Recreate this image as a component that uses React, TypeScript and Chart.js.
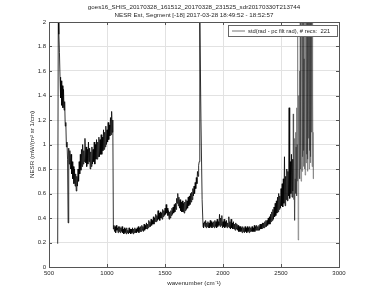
import { useEffect, useRef } from 'react';
import { Chart, registerables } from 'chart.js';

Chart.register(...registerables);

const titleLines = [
  'goes16_SHIS_20170328_161512_20170328_231525_sdr20170330T213744',
  'NESR Est, Segment [-18] 2017-03-28 18:49:52 - 18:52:57',
];
const xLabel = 'wavenumber (cm\u207B\u00B9)';
const yLabel = 'NESR (mW/(m\u00B2 sr 1/cm)';
const legendLabel = 'std(rad - pc filt rad), # recs:  221';
const xTickValues = [500, 1000, 1500, 2000, 2500, 3000];
const yTickValues = [0, 0.2, 0.4, 0.6, 0.8, 1, 1.2, 1.4, 1.6, 1.8, 2];

// Band 1 (longwave), sampled every 5 cm-1
const band1Start = 575;
const band1Step = 5;
const band1Nesr = [
  0.19, 2.05, 1.9, 1.75, 1.55, 1.38, 1.52, 1.32, 1.48, 1.3, 1.45, 1.28, 1.35, 1.15, 1.18, 0.98,
  1.02, 0.88, 0.36, 0.97, 0.84, 0.95, 0.8, 0.92, 0.76, 0.86, 0.72, 0.82, 0.68, 0.8, 0.66, 0.76,
  0.62, 0.74, 0.66, 0.8, 0.7, 0.86, 0.76, 0.92, 0.79, 0.96, 0.82, 1.0, 0.84, 0.95, 0.86, 1.05,
  0.85, 0.98, 0.82, 0.96, 0.84, 1.02, 0.86, 0.97, 0.8, 0.94, 0.82, 0.98, 0.84, 0.96, 0.86, 1.02,
  0.84, 1.0, 0.88, 1.04, 0.88, 1.02, 0.9, 1.06, 0.9, 1.04, 0.92, 1.08, 0.92, 1.06, 0.95, 1.12,
  0.96, 1.1, 0.98, 1.15, 1.0, 1.12, 1.02, 1.18, 1.04, 1.16, 1.07, 1.22, 1.08, 1.27, 1.1, 1.2,
];

// Band 2 (midwave), sampled every 5 cm-1
const band2Start = 1055;
const band2Step = 5;
const band2Nesr = [
  0.31, 0.34, 0.29, 0.33, 0.28, 0.34, 0.3, 0.32, 0.28, 0.33,
  0.29, 0.33, 0.28, 0.32, 0.29, 0.33, 0.28, 0.31, 0.27, 0.32,
  0.28, 0.31, 0.27, 0.32, 0.28, 0.3, 0.27, 0.32, 0.28, 0.31,
  0.27, 0.31, 0.28, 0.32, 0.27, 0.31, 0.28, 0.32, 0.28, 0.31,
  0.28, 0.32, 0.29, 0.33, 0.28, 0.32, 0.29, 0.33, 0.29, 0.34,
  0.3, 0.33, 0.29, 0.35, 0.3, 0.34, 0.31, 0.36, 0.31, 0.35,
  0.32, 0.38, 0.33, 0.37, 0.33, 0.39, 0.34, 0.38, 0.35, 0.41,
  0.35, 0.4, 0.37, 0.43, 0.37, 0.42, 0.38, 0.46, 0.39, 0.44,
  0.38, 0.45, 0.4, 0.44, 0.39, 0.47, 0.41, 0.46, 0.42, 0.48,
  0.43, 0.51, 0.44, 0.48, 0.42, 0.46, 0.39, 0.45, 0.4, 0.46,
  0.42, 0.48, 0.43, 0.49, 0.44, 0.51, 0.45, 0.52, 0.47, 0.56,
  0.52, 0.6, 0.5, 0.57, 0.48, 0.55, 0.46, 0.53, 0.45, 0.54,
  0.45, 0.52, 0.44, 0.53, 0.46, 0.55, 0.47, 0.54, 0.48, 0.57,
  0.5, 0.58, 0.51, 0.6, 0.53, 0.61, 0.55, 0.64, 0.58, 0.66,
  0.6, 0.69, 0.64, 0.73, 0.68, 0.78, 0.74, 0.83, 0.86,
];

// Band edge spike between band 2 and band 3
const edgeWn = [1800, 1810, 1820, 1828];
const edgeNesr = [2.05, 1.2, 0.55, 0.33];

// Band 3 (shortwave), sampled every 5 cm-1
const band3Start = 1830;
const band3Step = 5;
const band3Nesr = [
  0.36, 0.32, 0.37, 0.33, 0.38, 0.32, 0.36, 0.33, 0.37, 0.32,
  0.36, 0.32, 0.38, 0.33, 0.37, 0.32, 0.36, 0.33, 0.37, 0.32,
  0.38, 0.33, 0.37, 0.32, 0.39, 0.33, 0.37, 0.34, 0.43, 0.33,
  0.4, 0.34, 0.42, 0.32, 0.37, 0.33, 0.39, 0.32, 0.37, 0.33,
  0.38, 0.32, 0.36, 0.33, 0.41, 0.32, 0.37, 0.31, 0.39, 0.32,
  0.36, 0.31, 0.37, 0.31, 0.35, 0.3, 0.36, 0.31, 0.35, 0.3,
  0.34, 0.29, 0.33, 0.29, 0.33, 0.29, 0.32, 0.28, 0.33, 0.29,
  0.32, 0.28, 0.33, 0.29, 0.32, 0.28, 0.33, 0.29, 0.32, 0.28,
  0.33, 0.29, 0.32, 0.29, 0.33, 0.29, 0.32, 0.29, 0.34, 0.29,
  0.33, 0.3, 0.34, 0.3, 0.33, 0.3, 0.34, 0.3, 0.35, 0.31,
  0.35, 0.31, 0.36, 0.32, 0.36, 0.32, 0.37, 0.33, 0.38, 0.33,
  0.38, 0.34, 0.4, 0.35, 0.41, 0.35, 0.43, 0.37, 0.45, 0.38,
  0.47, 0.39, 0.49, 0.41, 0.52, 0.42, 0.54, 0.44, 0.57, 0.45,
  0.6, 0.47, 0.58, 0.48, 0.64, 0.5, 0.68, 0.49, 0.72, 0.52,
  0.9, 0.5, 0.74, 0.55, 0.8, 0.54, 0.78, 0.58, 1.3, 0.56,
  0.86, 0.6, 0.92, 0.57, 0.88,
];

// Noisy tail of band 3, sampled every 2.5 cm-1
const tailStart = 2602.5;
const tailStep = 2.5;
const tailNesr = [
  0.62, 1.25, 0.55, 0.95, 0.66, 1.05, 0.5, 0.38, 0.72, 1.1,
  0.6, 0.98, 0.65, 1.3, 0.58, 1.0, 0.7, 1.9, 0.22, 1.4,
  0.68, 1.15, 0.75, 1.6, 0.72, 2.3, 0.8, 1.35, 0.7, 2.4,
  0.85, 1.8, 0.78, 2.5, 0.9, 2.2, 0.82, 2.6, 0.95, 1.7,
  0.8, 2.5, 0.75, 2.3, 1.0, 2.6, 0.85, 2.2, 0.92, 2.5,
  0.78, 2.4, 0.88, 2.6, 1.05, 2.3, 0.8, 2.5, 0.95, 2.2,
  0.85, 2.6, 0.9, 2.4, 1.1, 1.9, 0.82, 2.2, 0.95, 1.4,
  0.72, 1.1,
];

const FONT = '"Liberation Sans", Arial, Helvetica, sans-serif';
const TEXT = '#262626';

export default function App() {
  const ref = useRef<HTMLCanvasElement>(null);

  useEffect(() => {
    const pts: { x: number; y: number }[] = [];
    band1Nesr.forEach((v, i) => pts.push({ x: band1Start + i * band1Step, y: v }));
    band2Nesr.forEach((v, i) => pts.push({ x: band2Start + i * band2Step, y: v }));
    edgeNesr.forEach((v, i) => pts.push({ x: edgeWn[i], y: v }));
    band3Nesr.forEach((v, i) => pts.push({ x: band3Start + i * band3Step, y: v }));
    tailNesr.forEach((v, i) => pts.push({ x: tailStart + i * tailStep, y: v }));

    const decor = {
      id: 'decor',
      afterDraw(chart: any) {
        const { ctx, chartArea: a, scales } = chart;
        ctx.save();
        ctx.strokeStyle = '#555';
        ctx.lineWidth = 1;
        ctx.strokeRect(Math.round(a.left) + 0.5, Math.round(a.top) + 0.5, Math.round(a.right - a.left), Math.round(a.bottom - a.top));
        ctx.beginPath();
        xTickValues.forEach((v) => {
          const px = Math.round(scales.x.getPixelForValue(v)) + 0.5;
          ctx.moveTo(px, a.bottom);
          ctx.lineTo(px, a.bottom - 3);
          ctx.moveTo(px, a.top);
          ctx.lineTo(px, a.top + 3);
        });
        yTickValues.forEach((v) => {
          const py = Math.round(scales.y.getPixelForValue(v)) + 0.5;
          ctx.moveTo(a.left, py);
          ctx.lineTo(a.left + 3, py);
          ctx.moveTo(a.right, py);
          ctx.lineTo(a.right - 3, py);
        });
        ctx.stroke();
        ctx.fillStyle = TEXT;
        ctx.textAlign = 'center';
        ctx.textBaseline = 'middle';
        ctx.font = `6.2px ${FONT}`;
        ctx.fillText(titleLines[0], (a.left + a.right) / 2, 7);
        ctx.fillText(titleLines[1], (a.left + a.right) / 2, 15.5);
        const lx = 228.5, ly = 25.5, lw = 109, lh = 11;
        ctx.fillStyle = '#fff';
        ctx.fillRect(lx, ly, lw, lh);
        ctx.strokeStyle = '#666';
        ctx.strokeRect(lx, ly, lw, lh);
        ctx.strokeStyle = '#777';
        ctx.beginPath();
        ctx.moveTo(232, ly + lh / 2);
        ctx.lineTo(245, ly + lh / 2);
        ctx.stroke();
        ctx.fillStyle = TEXT;
        ctx.textAlign = 'left';
        ctx.font = `5.8px ${FONT}`;
        ctx.fillText(legendLabel, 248, ly + lh / 2 + 0.5);
        ctx.restore();
      },
    };

    const chart = new Chart(ref.current as HTMLCanvasElement, {
      type: 'line',
      data: {
        datasets: [
          {
            label: legendLabel,
            data: pts,
            borderColor: '#000',
            borderWidth: 0.8,
            pointRadius: 0,
            tension: 0,
            fill: false,
            clip: 0,
            segment: {
              borderColor: (c: any) => (c.p0.parsed.x > 2600 ? 'rgba(0,0,0,0.55)' : undefined),
              borderWidth: (c: any) => (c.p0.parsed.x > 2600 ? 0.6 : undefined),
            },
          } as any,
        ],
      },
      options: {
        animation: false,
        responsive: true,
        maintainAspectRatio: false,
        layout: { padding: { left: 0, top: 22, right: 36, bottom: 0 } },
        plugins: {
          legend: { display: false },
          tooltip: { enabled: false },
          title: { display: false },
        },
        scales: {
          x: {
            type: 'linear',
            min: 500,
            max: 3000,
            afterFit: (s: any) => { s.height = 34; },
            afterBuildTicks: (s: any) => { s.ticks = xTickValues.map((v) => ({ value: v })); },
            grid: { color: '#e2e2e2', drawTicks: false, lineWidth: 1 },
            border: { display: false },
            ticks: {
              padding: 3,
              color: TEXT,
              font: { family: FONT, size: 6 },
              maxRotation: 0,
              callback: (v: any) => String(v),
            },
            title: {
              display: true,
              text: xLabel,
              color: TEXT,
              font: { family: FONT, size: 6.2 },
              padding: { top: 0, bottom: 14 },
            },
          },
          y: {
            type: 'linear',
            min: 0,
            max: 2,
            afterFit: (s: any) => { s.width = 49; },
            afterBuildTicks: (s: any) => { s.ticks = yTickValues.map((v) => ({ value: v })); },
            grid: { color: '#e2e2e2', drawTicks: false, lineWidth: 1 },
            border: { display: false },
            ticks: {
              padding: 3,
              color: TEXT,
              font: { family: FONT, size: 6 },
              callback: (v: any) => String(v),
            },
            title: {
              display: true,
              text: yLabel,
              color: TEXT,
              font: { family: FONT, size: 6.2 },
              padding: { top: 29, bottom: 0 },
            },
          },
        },
      },
      plugins: [decor],
    });
    return () => chart.destroy();
  }, []);

  return (
    <div style={{ position: 'fixed', left: 0, top: 0, width: 375, height: 301, background: '#fff' }}>
      <canvas ref={ref} />
    </div>
  );
}
